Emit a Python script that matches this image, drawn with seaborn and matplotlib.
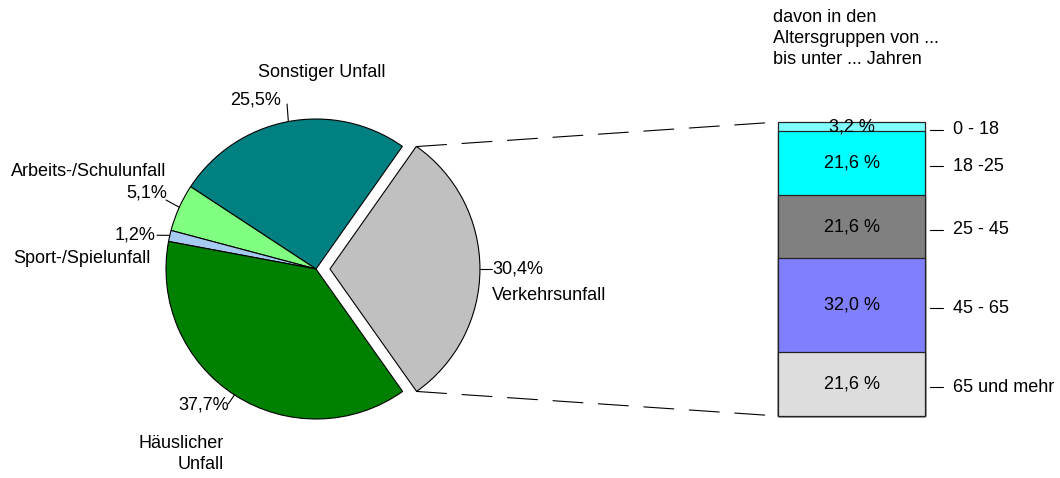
import numpy as np
import matplotlib
matplotlib.use("Agg")
import matplotlib.pyplot as plt
from matplotlib.patches import ConnectionPatch
import seaborn as sns

# Unfallarten (Anteile in %)
unfall_arten = ["Verkehrsunfall", "Sonstiger Unfall", "Arbeits-/Schulunfall",
                "Sport-/Spielunfall", "Häuslicher\nUnfall"]
unfall_werte = [30.4, 25.5, 5.1, 1.2, 37.7]
unfall_labels = ["30,4%", "25,5%", "5,1%", "1,2%", "37,7%"]
unfall_farben = ["#C0C0C0", "#008080", "#80FF80", "#A6CAF0", "#008000"]

# davon Verkehrsunfall nach Altersgruppen (von oben nach unten)
alters_gruppen = ["0 - 18", "18 -25", "25 - 45", "45 - 65", "65 und mehr"]
alters_werte = [3.2, 21.6, 21.6, 32.0, 21.6]
alters_labels = ["3,2 %", "21,6 %", "21,6 %", "32,0 %", "21,6 %"]
alters_farben = ["#80FFFF", "#00FFFF", "#808080", "#8080FF", "#DDDDDD"]

sns.set_theme(style="white")
plt.rcParams['font.family'] = ['Liberation Sans', 'DejaVu Sans']
plt.rcParams['text.color'] = 'black'
FS = 13

fig = plt.figure(figsize=(10.6, 4.78), dpi=100)

# ---- Kreisdiagramm
ax_pie = fig.add_axes([121 / 1060, 14 / 478, 390 / 1060, 390 / 478])
explode = [0.093, 0, 0, 0, 0]
start = -unfall_werte[0] / 100 * 360 / 2
wedges, _ = ax_pie.pie(unfall_werte, colors=unfall_farben, explode=explode,
                       startangle=start, counterclock=True, radius=1.0,
                       wedgeprops=dict(edgecolor="black", linewidth=0.8))
ax_pie.set_xlim(-1.3, 1.3)
ax_pie.set_ylim(-1.3, 1.3)
ax_pie.set_aspect("equal")
ax_pie.axis("off")

grenzen = start + np.cumsum([0] + unfall_werte) / 100 * 360
mitten = (grenzen[:-1] + grenzen[1:]) / 2

def punkt(winkel, r):
    a = np.deg2rad(winkel)
    return r * np.cos(a), r * np.sin(a)

# Sonstiger Unfall
x0, y0 = punkt(mitten[1], 1.0)
ax_pie.plot([x0, -0.193], [y0, 1.1], color="black", lw=0.8)
ax_pie.text(-0.4, 1.127, unfall_labels[1], ha="center", va="center", fontsize=FS)
ax_pie.text(0.04, 1.313, unfall_arten[1], ha="center", va="center", fontsize=FS)
# Arbeits-/Schulunfall
x0, y0 = punkt(mitten[2], 1.0)
ax_pie.plot([x0, -1.0], [y0, 0.46], color="black", lw=0.8)
ax_pie.text(-1.127, 0.507, unfall_labels[2], ha="center", va="center", fontsize=FS)
ax_pie.text(-1.513, 0.647, unfall_arten[2], ha="center", va="center", fontsize=FS)
# Sport-/Spielunfall
x0, y0 = punkt(mitten[3], 1.0)
ax_pie.plot([x0, -1.06], [y0, 0.225], color="black", lw=0.8)
ax_pie.text(-1.207, 0.227, unfall_labels[3], ha="center", va="center", fontsize=FS)
ax_pie.text(-1.56, 0.073, unfall_arten[3], ha="center", va="center", fontsize=FS)
# Häuslicher Unfall
x0, y0 = punkt(mitten[4], 1.0)
ax_pie.plot([x0, -0.585], [y0, -0.9], color="black", lw=0.8)
ax_pie.text(-0.58, -0.907, unfall_labels[4], ha="right", va="center", fontsize=FS)
ax_pie.text(-0.613, -1.235, unfall_arten[4], ha="right", va="center", fontsize=FS,
            linespacing=1.3)
# Verkehrsunfall
x0, y0 = punkt(mitten[0], 1.0)
ax_pie.plot([x0 + explode[0], 1.173], [y0, 0], color="black", lw=0.8)
ax_pie.text(1.175, 0, unfall_labels[0], ha="left", va="center", fontsize=FS)
ax_pie.text(1.175, -0.18, unfall_arten[0], ha="left", va="center", fontsize=FS)

# ---- gestapelte Säule
ax_bar = fig.add_axes([778 / 1060, 62 / 478, 147 / 1060, 294 / 478])
kum = np.cumsum(alters_werte[::-1])[::-1]  # von oben: 100, 96.8, ...
for h, farbe in zip(kum, alters_farben):
    sns.barplot(x=[0], y=[h], color=farbe, width=1.0, saturation=1,
                edgecolor="#222222", linewidth=0.9, ax=ax_bar)
for p in ax_bar.patches:
    p.set_clip_on(False)
ax_bar.set_xlim(-0.5, 0.5)
ax_bar.set_ylim(0, 100)
ax_bar.axis("off")

mitte_seg = kum - np.array(alters_werte) / 2
for ym, lab, grp in zip(mitte_seg, alters_labels, alters_gruppen):
    ax_bar.text(0, ym, lab, ha="center", va="center", fontsize=FS)
    ax_bar.plot([0.534, 0.62], [ym - 1.0, ym - 1.0], color="black", lw=0.8, clip_on=False)
    ax_bar.text(0.69, ym - 1.0, grp, ha="left", va="center", fontsize=FS)

fig.text(773 / 1060, 1 - 9 / 478, "davon in den\nAltersgruppen von ...\nbis unter ... Jahren",
         ha="left", va="top", fontsize=FS, linespacing=1.3)

# ---- Verbindungslinien
for winkel, yb in [(grenzen[1], 100), (grenzen[0], 0)]:
    xp, yp = punkt(winkel, 1.0)
    con = ConnectionPatch(xyA=(xp + explode[0], yp), coordsA=ax_pie.transData,
                          xyB=(-0.5, yb), coordsB=ax_bar.transData,
                          color="black", lw=0.8, linestyle=(0, (27, 14)))
    fig.add_artist(con)

fig.savefig("out.png", dpi=100)
